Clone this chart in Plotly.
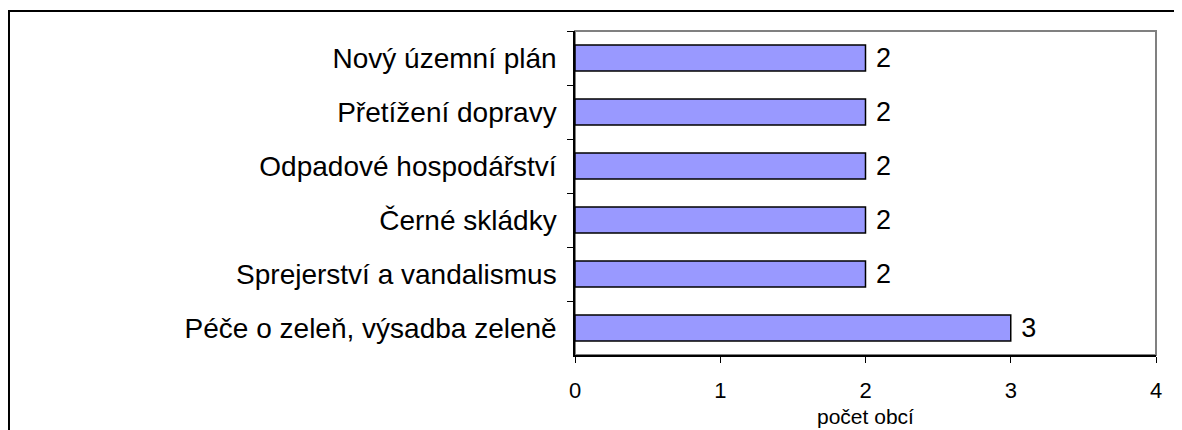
import plotly.graph_objects as go

categories = ["Nový územní plán", "Přetížení dopravy", "Odpadové hospodářství",
              "Černé skládky", "Sprejerství a vandalismus", "Péče o zeleň, výsadba zeleně"]
values = [2, 2, 2, 2, 2, 3]
x_ticks = [0, 1, 2, 3, 4]

fig = go.Figure()
fig.add_trace(go.Bar(
    y=categories, x=values, orientation="h",
    marker=dict(color="#9999FF", line=dict(color="black", width=1.5)),
    texttemplate=" %{x}", textposition="outside",
    textfont=dict(family="Liberation Sans, Arial", size=27, color="black"),
    constraintext="none", cliponaxis=False,
))

# page body has an 8px margin, so the figure is shifted by 8px
fig.update_layout(
    width=1182, height=430,
    margin=dict(l=567, r=34, t=23, b=83),
    plot_bgcolor="white", paper_bgcolor="white",
    bargap=0.52, showlegend=False,
    font=dict(family="Liberation Sans, Arial", color="black"),
)
fig.update_xaxes(
    range=[0, 4], tickvals=x_ticks, showgrid=False, zeroline=False,
    showline=True, linecolor="black", linewidth=1.5,
    ticks="outside", ticklen=6, tickcolor="black", tickwidth=1,
    tickfont=dict(family="Liberation Sans Narrow, Liberation Sans", size=22),
    ticklabelstandoff=9,
)
fig.update_yaxes(
    autorange="reversed", showgrid=False,
    showline=True, linecolor="black", linewidth=1.5,
    ticks="outside", ticklen=6, tickcolor="black", tickwidth=1,
    tickson="boundaries",
    tickfont=dict(family="Liberation Sans, Arial", size=28),
    ticklabelstandoff=11,
)

# plot area frame (gray) and outer chart border (black)
fig.add_shape(type="rect", xref="paper", yref="paper", x0=0, y0=0, x1=1, y1=1,
              line=dict(color="#808080", width=2), layer="below")
fig.add_shape(type="rect", xref="paper", yref="paper",
              x0=-0.9742, y0=-0.5, x1=1.2, y1=1.0617,
              line=dict(color="black", width=2))

fig.add_annotation(text="počet obcí", xref="paper", yref="paper", x=0.5, y=-0.19,
                   yanchor="middle", showarrow=False,
                   font=dict(family="Liberation Sans Narrow, Liberation Sans", size=21))

fig.write_html("out.html")
